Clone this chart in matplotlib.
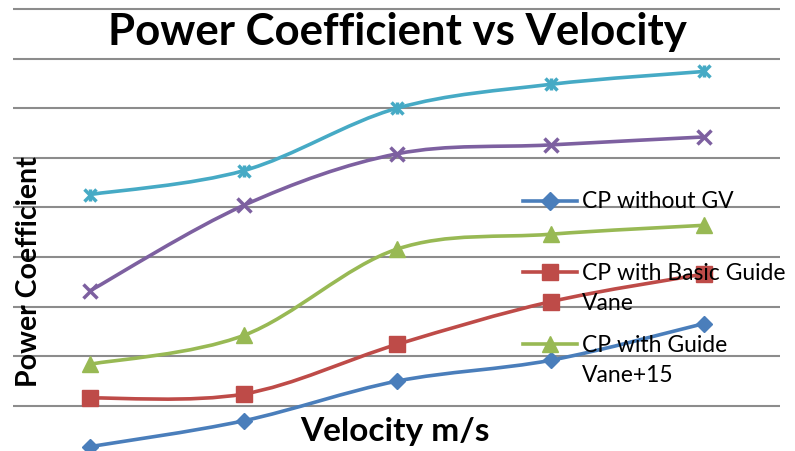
import numpy as np
import matplotlib.pyplot as plt
from matplotlib.path import Path
from matplotlib.patches import PathPatch
from matplotlib.lines import Line2D

plt.rcParams['font.family'] = ['Lato', 'DejaVu Sans']

# data (velocity index 1..5)
velocity = [1, 2, 3, 4, 5]
cp_without_gv = [0.009, 0.035, 0.075, 0.096, 0.133]
cp_basic_gv = [0.058, 0.062, 0.112, 0.155, 0.183]
cp_gv_15 = [0.092, 0.121, 0.208, 0.223, 0.232]
cp_series4 = [0.166, 0.252, 0.304, 0.313, 0.321]
cp_series5 = [0.263, 0.287, 0.350, 0.374, 0.387]

labels = ['CP without GV', 'CP with Basic Guide\nVane', 'CP with Guide\nVane+15',
          'Series 4', 'Series 5']
colors = ['#4A7EBB', '#BE4B48', '#98B954', '#7D60A0', '#46AAC5']
markers = ['D', 's', '^', 'x', 'x']
msizes = [8, 11, 11, 10, 9]
series = [cp_without_gv, cp_basic_gv, cp_gv_15, cp_series4, cp_series5]


def smooth_path(x, y):
    # excel-like smoothed line: catmull-rom segments as cubic bezier
    p = np.column_stack([x, y]).astype(float)
    p = np.vstack([p[0], p, p[-1]])
    verts = [p[1]]
    codes = [Path.MOVETO]
    for i in range(1, len(p) - 2):
        c1 = p[i] + (p[i+1] - p[i-1]) / 6
        c2 = p[i+1] - (p[i+2] - p[i]) / 6
        verts += [c1, c2, p[i+1]]
        codes += [Path.CURVE4] * 3
    return Path(verts, codes)


fig = plt.figure(figsize=(7.95, 4.52), dpi=100)
ax = fig.add_axes([13/795, 0, 767/795, 1])
ax.set_xlim(0.498, 5.495)
ax.set_ylim(0.0046, 0.460)

for v in np.arange(0.05, 0.451, 0.05):
    ax.axhline(v, color='#8c8c8c', lw=1.5, zorder=0)

for s, c, m, ms in zip(series, colors, markers, msizes):
    ax.add_patch(PathPatch(smooth_path(velocity, s), fill=False, edgecolor=c,
                           lw=2.6, capstyle='round', zorder=2))
    mew = 2.5 if m == 'x' else 1
    ax.plot(velocity, s, linestyle='none', marker=m, ms=ms, color=c, mew=mew, zorder=3)
# star marker: x plus vertical tick
ax.plot(velocity, cp_series5, linestyle='none', marker='|', ms=9, color=colors[4],
        mew=2.5, zorder=3)

ax.axis('off')

# legend (only the first three entries are visible in the chart)
row_y = [202, 273, 345]
for lab, c, m, ms, yy in zip(labels[:3], colors, markers, msizes, row_y):
    yf = 1 - yy / 452
    fig.add_artist(Line2D([523/795, 577/795], [yf, yf], color=c, lw=2.6,
                          transform=fig.transFigure, zorder=4))
    fig.add_artist(Line2D([550/795], [yf], color=c, marker=m, ms=ms + 1,
                          transform=fig.transFigure, zorder=4))
    for k, line in enumerate(lab.split('\n')):
        fig.text(582/795, yf - k * 30.5 / 452, line, ha='left', va='center',
                 fontsize=16.5, zorder=5)

fig.text(0.5, 0.93, 'Power Coefficient vs Velocity', ha='center', va='center',
         fontsize=31.5, fontweight='bold')
fig.text(0.036, 0.398, 'Power Coefficient', rotation=90, ha='center', va='center',
         fontsize=20.5, fontweight='bold')
fig.text(0.497, 0.045, 'Velocity m/s', ha='center', va='center',
         fontsize=24, fontweight='bold')

fig.savefig('out.png', dpi=100)
